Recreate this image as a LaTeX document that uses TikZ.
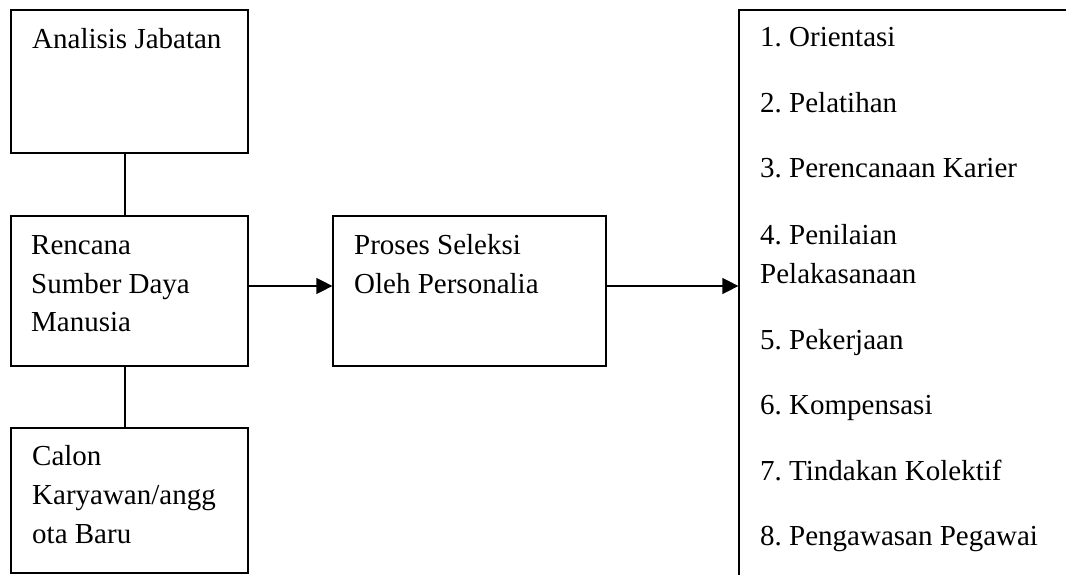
\documentclass[tikz,border=0pt]{standalone}
\usepackage{fontspec}
\setmainfont{Liberation Serif}
\frenchspacing
\usetikzlibrary{arrows.meta}
\begin{document}
\begin{tikzpicture}[x=1pt,y=-1pt,
  box/.style={draw, line width=1.2pt, rectangle, inner sep=0pt},
  txt/.style={anchor=base west, inner sep=0pt, font=\fontsize{29}{38.5}\selectfont},
  link/.style={line width=1.2pt},
  arr/.style={line width=1.2pt, -{Triangle[length=16pt,width=16pt]}}]
\clip (0,0) rectangle (1066,575);
\fill[white] (0,0) rectangle (1066,575);
% boxes
\node[box, minimum width=237pt, minimum height=143pt] (A) at (129.5,81.5) {};
\node[box, minimum width=237pt, minimum height=150pt] (B) at (129.5,291) {};
\node[box, minimum width=237pt, minimum height=145pt] (C) at (129.5,500.5) {};
\node[box, minimum width=273pt, minimum height=150pt] (D) at (469.5,291) {};
\node[box, minimum width=361pt, minimum height=590pt] (E) at (919.5,305) {};
% texts
\node[txt] (a1) at (32,49) {Analisis Jabatan};
\node[txt] (b1) at (31,254) {Rencana};
\node[txt] (b2) at (31,293) {Sumber Daya};
\node[txt] (b3) at (31,331) {Manusia};
\node[txt] (c1) at (32,465) {Calon};
\node[txt] (c2) at (32,504) {Karyawan/angg};
\node[txt] (c3) at (32,543) {ota Baru};
\node[txt] (d1) at (354,254) {Proses Seleksi};
\node[txt] (d2) at (354,293) {Oleh Personalia};
\node[txt] (e1) at (760,47) {1. Orientasi};
\node[txt] (e2) at (760,113) {2. Pelatihan};
\node[txt] (e3) at (760,178) {3. Perencanaan Karier};
\node[txt] (e4) at (760,244) {4. Penilaian};
\node[txt] (e4b) at (760,283) {Pelakasanaan};
\node[txt] (e5) at (760,349) {5. Pekerjaan};
\node[txt] (e6) at (760,414) {6. Kompensasi};
\node[txt] (e7) at (760,480) {7. Tindakan Kolektif};
\node[txt] (e8) at (760,545) {8. Pengawasan Pegawai};
% connectors
\coordinate (dout) at ([yshift=5pt]D.east);
\draw[link] ([xshift=-4.5pt]A.south) -- ([xshift=-4.5pt]B.north);
\draw[link] ([xshift=-4.5pt]B.south) -- ([xshift=-4.5pt]C.north);
\draw[arr] ([yshift=5pt]B.east) -- ([yshift=5pt]D.west);
\draw[arr] (dout) -- (E.west |- dout);
\end{tikzpicture}
\end{document}
